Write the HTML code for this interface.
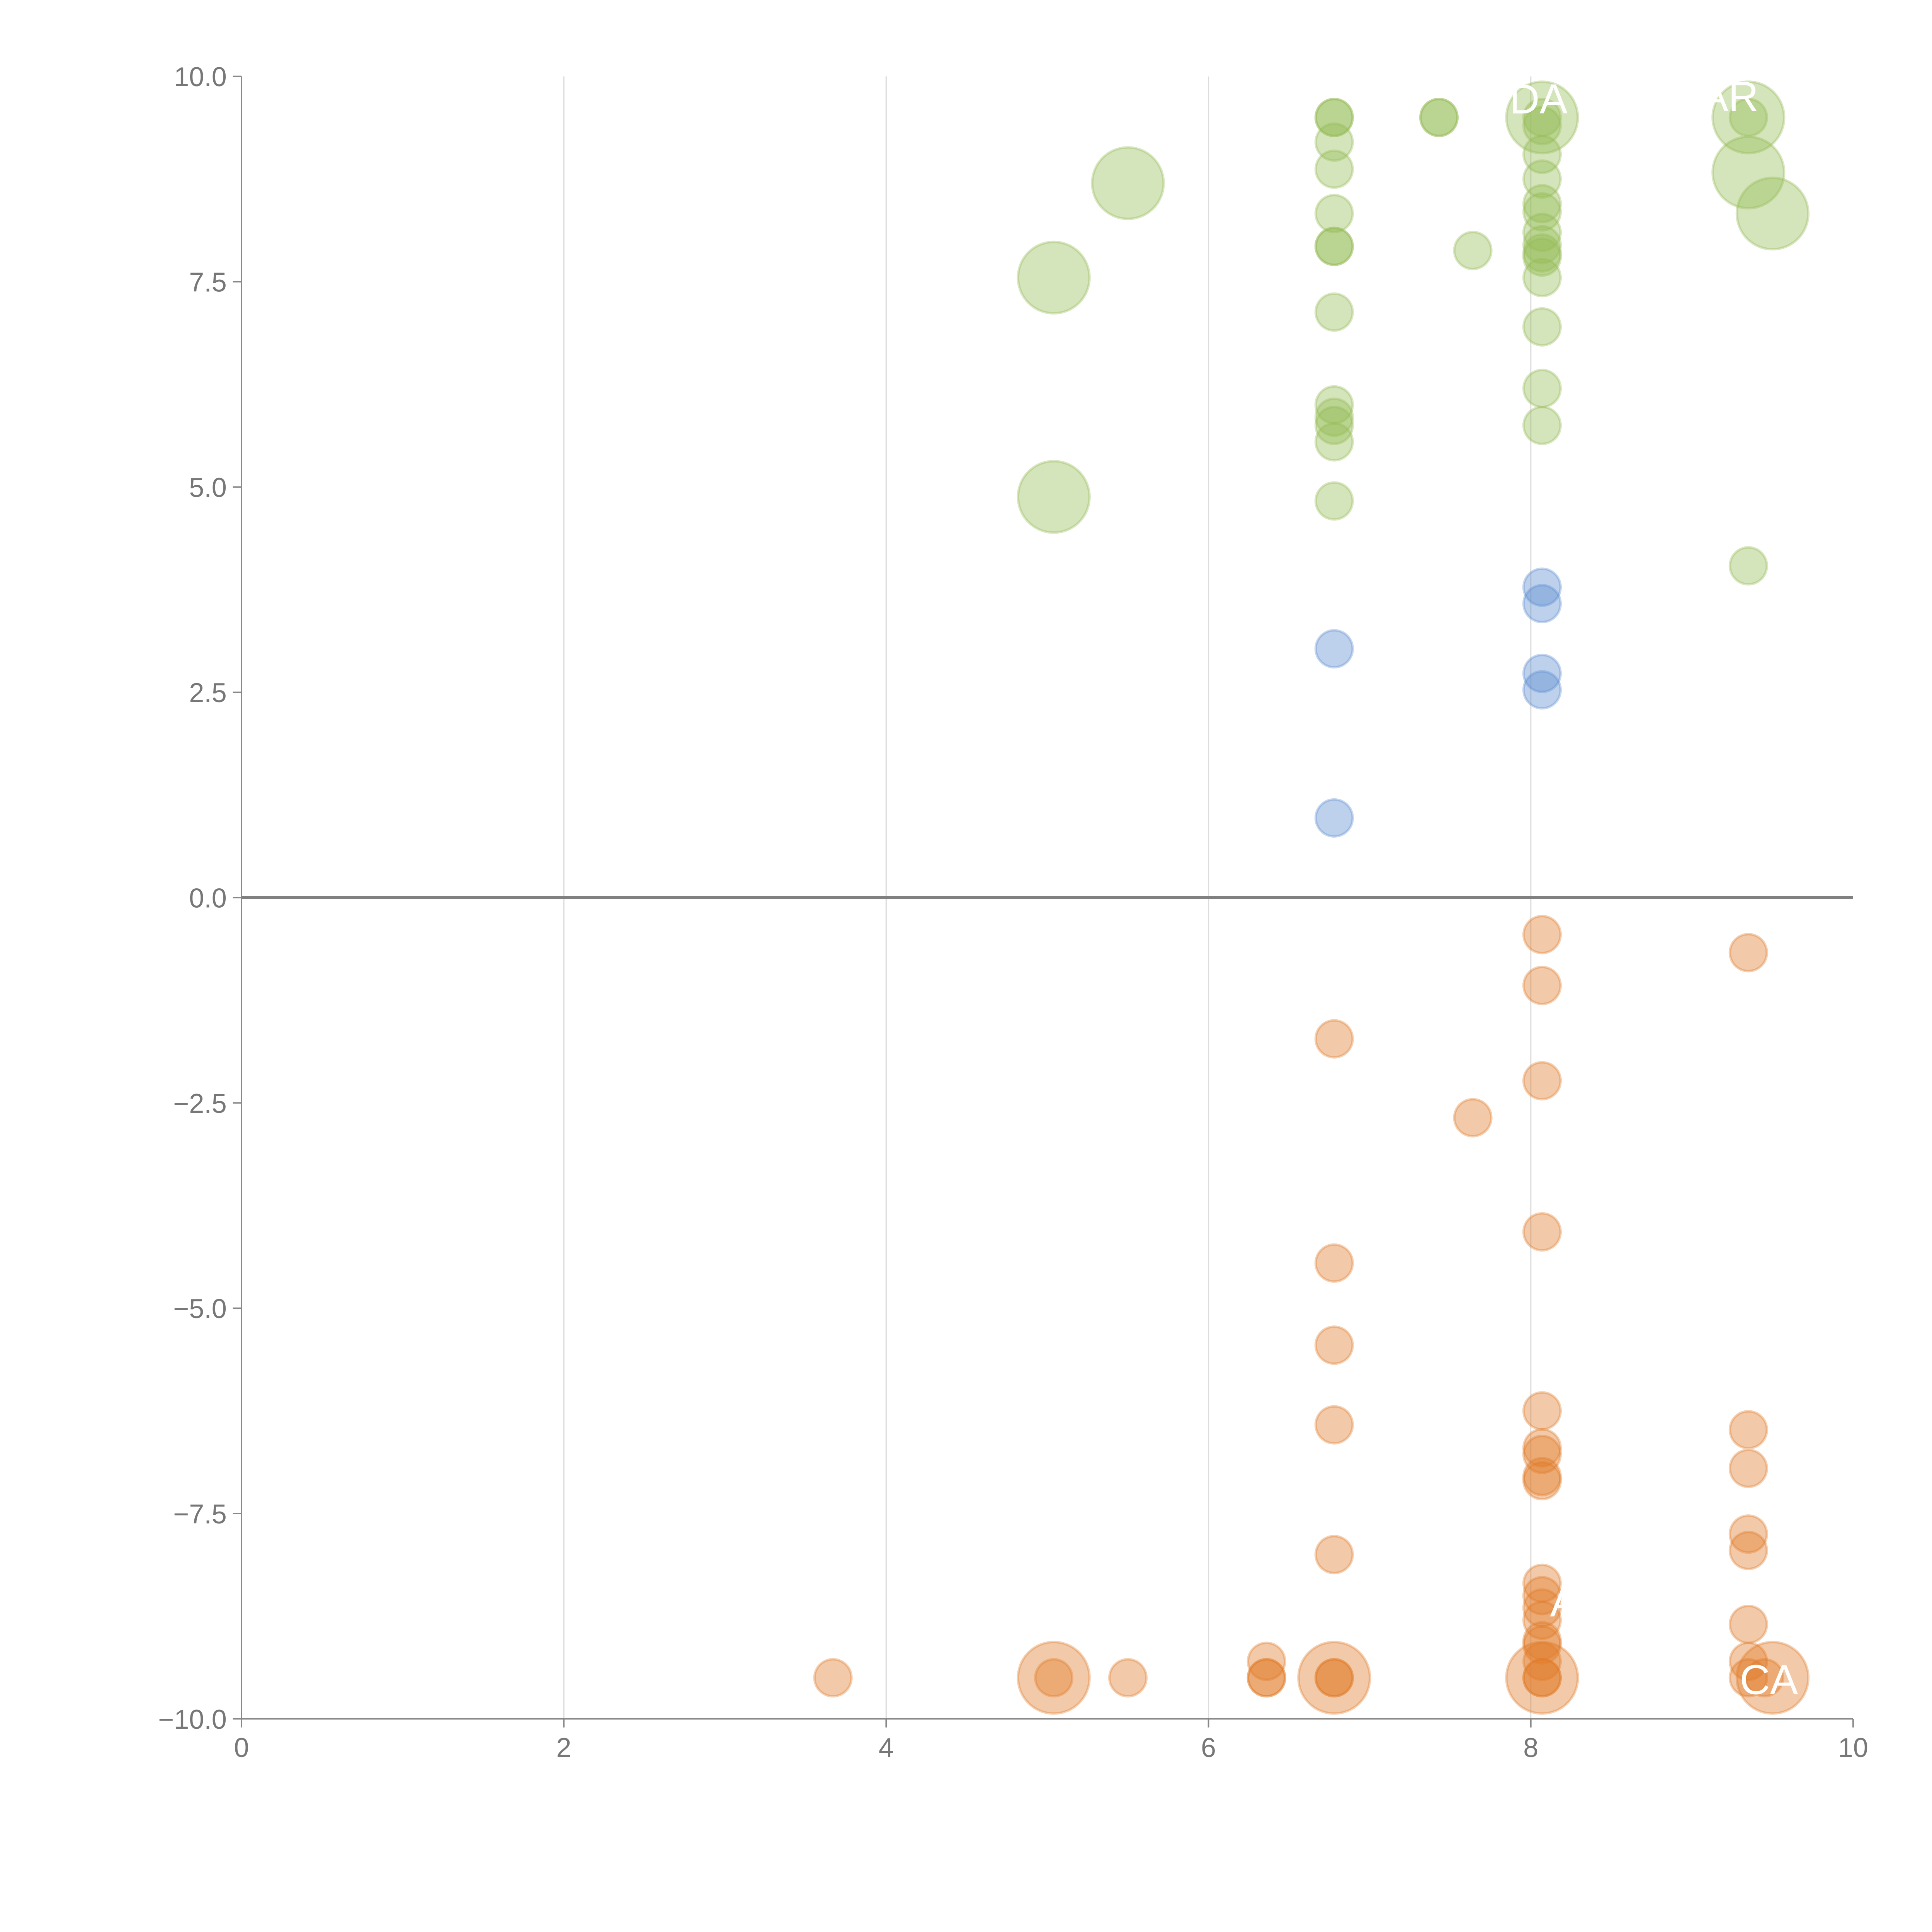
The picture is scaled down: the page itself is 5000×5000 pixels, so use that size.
<!DOCTYPE html>
<html><head><meta charset="utf-8"><style>
html,body{margin:0;padding:0;background:#fff;}
svg{display:block;}
text{font-family:"Liberation Sans",Arial,sans-serif;}
</style></head><body>
<svg id="chart" width="5000" height="5000" viewBox="0 0 1568 1568" xmlns="http://www.w3.org/2000/svg">
<g id="grid"></g>
<g id="axes"></g>
<g id="marks"></g>
<g id="labels"></g>
</svg>
<script>
const xTicks=[0,2,4,6,8,10];
const yTicks=[10,7.5,5,2.5,0,-2.5,-5,-7.5,-10];
const greenX=[6.78,6.78,6.78,6.78,6.78,6.78,6.78,6.78,6.78,6.78,6.78,6.78,6.78,7.43,7.43,7.64,8.07,8.07,8.07,8.07,8.07,8.07,8.07,8.07,8.07,8.07,8.07,8.07,8.07,8.07,8.07,9.35,9.35,9.35,9.35,9.5,5.04,5.04,5.5];
const greenY=[9.5,9.5,9.2,8.87,8.33,7.93,7.93,7.13,6.0,5.85,5.75,5.55,4.83,9.5,9.5,7.88,9.5,9.5,9.4,9.05,8.75,8.45,8.35,8.1,7.95,7.85,7.8,7.55,6.95,6.2,5.75,9.5,9.5,8.83,4.04,8.33,7.55,4.88,8.7];
const greenS=[1,1,1,1,1,1,1,1,1,1,1,1,1,1,1,1,2,1,1,1,1,1,1,1,1,1,1,1,1,1,1,2,1,2,1,2,2,2,2];
const blueX=[6.78,6.78,8.07,8.07,8.07,8.07];
const blueY=[3.03,0.97,3.78,3.58,2.73,2.53];
const orangeX=[3.67,5.04,5.04,5.5,6.36,6.36,6.36,6.78,6.78,6.78,6.78,6.78,6.78,6.78,6.78,7.64,8.07,8.07,8.07,8.07,8.07,8.07,8.07,8.07,8.07,8.07,8.07,8.07,8.07,8.07,8.07,8.07,8.07,8.07,8.07,9.35,9.35,9.35,9.35,9.35,9.35,9.35,9.35,9.5,9.45];
const orangeY=[-9.5,-9.5,-9.5,-9.5,-9.3,-9.5,-9.5,-1.72,-4.45,-5.45,-6.42,-8.0,-9.5,-9.5,-9.5,-2.68,-0.45,-1.07,-2.23,-4.07,-6.25,-6.7,-6.78,-7.05,-7.1,-8.35,-8.5,-8.65,-8.8,-9.05,-9.1,-9.3,-9.5,-9.5,-9.5,-0.67,-6.48,-6.95,-7.75,-7.95,-8.85,-9.3,-9.5,-9.5,-9.5];
const orangeS=[1,2,1,1,1,1,1,1,1,1,1,1,2,1,1,1,1,1,1,1,1,1,1,1,1,1,1,1,1,1,1,1,2,1,1,1,1,1,1,1,1,1,1,2,1];
const L=196,R=1504,T=62,B=1395;
const sx=v=>L+(v-0)/(10-0)*(R-L);
const sy=v=>T+(10-v)/20*(B-T);
const NS="http://www.w3.org/2000/svg";
function mk(tag,attrs,parent){const e=document.createElementNS(NS,tag);for(const k in attrs)e.setAttribute(k,attrs[k]);parent.appendChild(e);return e;}
const grid=document.getElementById('grid'),axes=document.getElementById('axes'),marks=document.getElementById('marks'),labels=document.getElementById('labels');
xTicks.forEach(t=>{
 if(t>0&&t<10){const g=mk('line',{x1:sx(t),x2:sx(t),y1:T,y2:B,stroke:'#dddddd','stroke-width':1},grid);
 
 }
 const tk=mk('line',{x1:sx(t),x2:sx(t),y1:B,y2:B+7,stroke:'#888','stroke-width':1.2},axes);
 
 
 const tx=mk('text',{x:sx(t),y:B+31,'text-anchor':'middle','font-size':22,fill:'#777'},axes);tx.textContent=t;
 
 
});
yTicks.forEach(t=>{
 const tk=mk('line',{x1:L-7,x2:L,y1:sy(t),y2:sy(t),stroke:'#888','stroke-width':1.2},axes);
 
 
 const tx=mk('text',{x:L-12,y:sy(t)+8,'text-anchor':'end','font-size':22,fill:'#777'},axes);tx.textContent=t.toFixed(1).replace('-','\u2212');
 
 
});
const ya=mk('line',{x1:L,x2:L,y1:T,y2:B,stroke:'#888','stroke-width':1.2},axes);


const xa=mk('line',{x1:L,x2:R,y1:B,y2:B,stroke:'#888','stroke-width':1.2},axes);


const zl=mk('line',{x1:L,x2:R,y1:sy(0),y2:sy(0),stroke:'#808080','stroke-width':2.5},axes);


function draw(xs,ys,ss,col,name){
 xs.forEach((x,i)=>{const r=(ss&&ss[i]===2)?29:15;
  const c=mk('circle',{cx:sx(x),cy:sy(ys[i]),r:r,fill:col,'fill-opacity':0.4,stroke:col,'stroke-opacity':0.35,'stroke-width':2},marks);
  
  
 });
}
draw(greenX,greenY,greenS,'#94bb55','bubble-positive');
draw(blueX,blueY,null,'#5b8bd0','bubble-neutral');
draw(orangeX,orangeY,orangeS,'#e07b27','bubble-negative');
const lab=[["DA",1225,92],["AR",1380,90],["CA",1412,1375],["A",1258,1312]];
lab.forEach(l=>{const t=mk('text',{x:l[1],y:l[2],'font-size':34,fill:'#fff'},labels);t.textContent=l[0];
 
 });
</script>
</body></html>
